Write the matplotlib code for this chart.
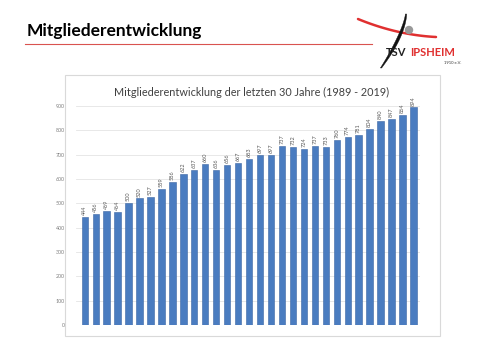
import matplotlib
matplotlib.use("Agg")
import matplotlib.pyplot as plt
from matplotlib.patches import Rectangle, Circle, Polygon
import numpy as np

years = list(range(1989, 2020))
members = [444, 456, 469, 464, 500, 520, 527, 559, 586, 622, 637, 660, 636, 656, 667,
           683, 697, 697, 737, 732, 724, 737, 733, 760, 774, 781, 804, 840, 847, 864, 894]
yticks = [0, 100, 200, 300, 400, 500, 600, 700, 800, 900]

plt.rcParams['font.family'] = ['Lato', 'DejaVu Sans']

fig = plt.figure(figsize=(4.8, 3.6), dpi=100)
fig.patch.set_facecolor('white')

# background/decoration layer in pixel coordinates
bg = fig.add_axes([0, 0, 1, 1])
bg.set_xlim(0, 480)
bg.set_ylim(360, 0)
bg.axis('off')

# slide title
bg.text(27, 31, "Mitgliederentwicklung", fontsize=12.5, fontweight='bold',
        color='black', va='center', ha='left')
bg.plot([25, 372], [44, 44], color='#d9534f', lw=0.8)

# logo
t = np.linspace(0.0, 1.0, 60)
swoosh_x = 358.0 + 78.0 * t
swoosh_y = 19.0 + 32.0 * t - 14.0 * t * t
bg.plot(swoosh_x, swoosh_y, color='#e03030', lw=1.8, solid_capstyle='round', zorder=4)
cx = 406.0 - 25.0 * t * np.sqrt(t)
cy = 14.0 + 54.0 * t
w = 0.6 + 1.0 * np.sin(np.pi * t)
pts = np.concatenate([np.column_stack([cx - w, cy]), np.column_stack([cx + w, cy])[::-1]])
bg.add_patch(Polygon(pts, closed=True, facecolor='#111111', edgecolor='#111111', lw=0.3, zorder=6))
bg.add_patch(Circle((409, 30), 3.5, color='#999999', zorder=5))
bg.text(386, 52, "TSV", fontsize=8, fontweight='bold', color='#222222', va='center', zorder=7)
bg.text(410, 52, "IPSHEIM", fontsize=8, fontweight='bold', color='#e03030', va='center', zorder=7)
bg.text(444, 63, "1910 e.V.", fontsize=3, color='#333333', va='center')

# chart box
bg.add_patch(Rectangle((65, 75), 375, 261, facecolor='white', edgecolor='#d9d9d9', lw=0.8, zorder=1))
bg.text(252, 92, "Mitgliederentwicklung der letzten 30 Jahre (1989 - 2019)",
        fontsize=7.8, color='#404040', ha='center', va='center')

ax = fig.add_axes([76/480, 1-325/360, 344/480, 219/360])
ax.set_facecolor('none')
x = np.arange(len(years))
ax.bar(x, members, width=0.58, color='#4a7cc0', edgecolor='#3c66a3', lw=0.4, zorder=3)
for xi, v in zip(x, members):
    ax.text(xi, v + 8, str(v), rotation=90, fontsize=4, color='#595959',
            ha='center', va='bottom')
ax.set_ylim(0, 900)
ax.set_xlim(-0.8, len(years) - 0.4)
ax.set_yticks(yticks)
ax.set_yticklabels([str(v) for v in yticks], fontsize=3.8, color='#7f7f7f')
ax.set_xticks([])
ax.yaxis.grid(True, color='#e4e4e4', lw=0.6, zorder=0)
for s in ax.spines.values():
    s.set_visible(False)
ax.tick_params(axis='y', length=0, pad=8)

fig.savefig("out.png", dpi=100)
